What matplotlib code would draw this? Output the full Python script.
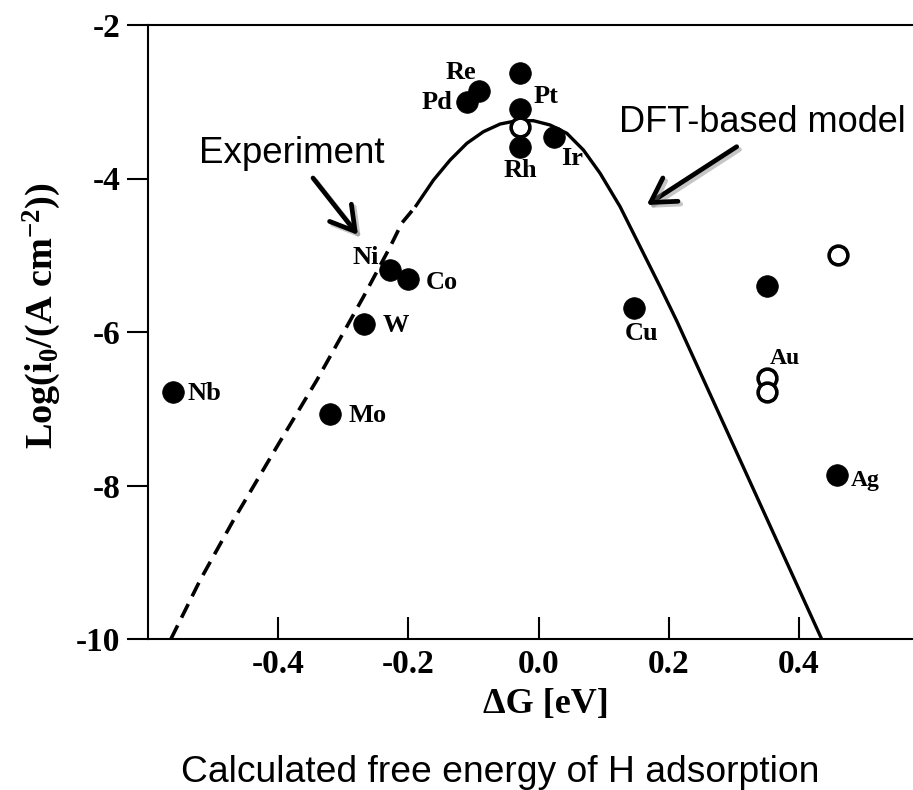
import matplotlib
matplotlib.use('Agg')
import matplotlib.pyplot as plt
import matplotlib.patheffects as pe

plt.rcParams['axes.unicode_minus'] = False
plt.rcParams['font.family'] = ['Liberation Serif', 'DejaVu Serif']
plt.rcParams['font.weight'] = 'bold'
plt.rcParams['mathtext.fontset'] = 'custom'
plt.rcParams['mathtext.rm'] = 'Liberation Serif:bold'
plt.rcParams['mathtext.bf'] = 'Liberation Serif:bold'
plt.rcParams['mathtext.it'] = 'Liberation Serif:bold'

# ---------------- data ----------------
filled_names = ['Nb', 'Mo', 'W', 'Ni', 'Co', 'Pd', 'Re', 'Pt', 'Pt', 'Rh', 'Ir', 'Cu', 'Au', 'Ag']
filled_dG = [-0.562, -0.320, -0.269, -0.229, -0.200, -0.110, -0.091, -0.028, -0.028, -0.028, 0.023, 0.146, 0.350, 0.459]
filled_logi = [-6.78, -7.07, -5.89, -5.19, -5.31, -3.00, -2.86, -2.62, -3.09, -3.59, -3.46, -5.69, -5.40, -7.86]

open_names = ['Pt', 'Au', 'Au', 'Ag']
open_dG = [-0.028, 0.350, 0.350, 0.460]
open_logi = [-3.33, -6.60, -6.78, -5.00]

model_dG = [-0.1896, -0.1615, -0.1359, -0.1102, -0.0848, -0.0591, -0.0335, -0.0080, 0.0177,
            0.0433, 0.0688, 0.0944, 0.1251, 0.1559, 0.1866, 0.2122, 0.4349]
model_logi = [-4.371, -4.020, -3.759, -3.541, -3.390, -3.290, -3.247, -3.247, -3.303,
              -3.411, -3.629, -3.932, -4.367, -4.889, -5.410, -5.857, -10.004]

exp_dG = [-0.5648, -0.5198, -0.4686, -0.4020, -0.3405, -0.2690, -0.2280, -0.2101, -0.1896]
exp_logi = [-10.0, -9.231, -8.450, -7.494, -6.625, -5.540, -4.889, -4.580, -4.371]

x_ticks = [-0.4, -0.2, 0.0, 0.2, 0.4]
x_ticklabels = ['-0.4', '-0.2', '0.0', '0.2', '0.4']
y_ticks = [-10, -8, -6, -4, -2]
y_ticklabels = ['-10', '-8', '-6', '-4', '-2']

# label: (text, which set, index in set)
point_labels = [('Nb', 'f', 0), ('Mo', 'f', 1), ('W', 'f', 2), ('Ni', 'f', 3), ('Co', 'f', 4),
                ('Pd', 'f', 5), ('Re', 'f', 6), ('Pt', 'f', 8), ('Rh', 'f', 9), ('Ir', 'f', 10),
                ('Cu', 'f', 11), ('Au', 'o', 1), ('Ag', 'f', 13)]
# label offsets in pixels (style/placement)
label_offsets = {'Nb': (32, -2), 'Mo': (37, -1), 'W': (32, -2), 'Ni': (-24, 12), 'Co': (33, -3),
                 'Pd': (-30, -1), 'Re': (-19, 19), 'Pt': (26, 12), 'Rh': (0, -23), 'Ir': (19, -21),
                 'Cu': (8, -25), 'Au': (18, 20), 'Ag': (28, -6)}
label_sizes = {'Au': 17, 'Ag': 17}

# ---------------- figure ----------------
W, H = 913, 790
fig = plt.figure(figsize=(W / 100, H / 100), dpi=100)
ax = fig.add_axes([148 / W, (H - 639) / H, (W - 148) / W, (639 - 25) / H])

ax.plot(model_dG, model_logi, color='black', lw=2.4, zorder=2, solid_capstyle='butt')
ax.plot(exp_dG, exp_logi, color='black', lw=2.6, zorder=2, dashes=(4.2, 2.4))

ax.plot(filled_dG, filled_logi, linestyle='none', marker='o', ms=15.6,
        mfc='black', mec='black', mew=0.5, zorder=3, clip_on=False)
ax.plot(open_dG, open_logi, linestyle='none', marker='o', ms=13.5,
        mfc='white', mec='black', mew=2.6, zorder=4, clip_on=False)

for name, which, idx in point_labels:
    if which == 'f':
        px, py = filled_dG[idx], filled_logi[idx]
    else:
        px, py = open_dG[idx], open_logi[idx]
    ax.annotate(name, xy=(px, py), xytext=label_offsets[name], textcoords='offset pixels',
                ha='center', va='center', fontsize=label_sizes.get(name, 19),
                fontweight='bold', zorder=5)

ax.set_xlim(-0.6, 0.575)
ax.set_ylim(-10, -2)
ax.set_xticks(x_ticks)
ax.set_xticklabels(x_ticklabels)
ax.set_yticks(y_ticks)
ax.set_yticklabels(y_ticklabels)
ax.tick_params(axis='y', direction='out', length=15, width=1.5, pad=5, labelsize=24)
ax.tick_params(axis='x', direction='in', length=16, width=1.5, pad=7, labelsize=24)
ax.spines['right'].set_visible(False)
for s in ['left', 'bottom', 'top']:
    ax.spines[s].set_linewidth(1.5)

ax.set_xlabel('\u0394G [eV]', fontsize=26, fontweight='bold')
ax.xaxis.set_label_coords((546 - 148) / 765, (639 - 688) / 614)
ax.set_ylabel(r'Log(i$_{\mathbf{0}}$/(A cm$^{\mathbf{-2}}$))', fontsize=27.5, fontweight='bold')
ax.yaxis.set_label_coords((63 - 148) / 765, (639 - 316) / 614)

sans = ['Liberation Sans', 'DejaVu Sans']
fig.text(291.7 / W, 1 - 163 / H, 'Experiment', family=sans, fontweight='normal',
         fontsize=26.5, ha='center', va='baseline')
fig.text(619 / W, 1 - 132 / H, 'DFT-based model', family=sans, fontweight='normal',
         fontsize=26, ha='left', va='baseline')
fig.text(500.5 / W, 1 - 782 / H, 'Calculated free energy of H adsorption', family=sans,
         fontweight='normal', fontsize=26.8, ha='center', va='baseline')

shadow = [pe.SimpleLineShadow(offset=(2, -2), shadow_color='gray', alpha=0.45), pe.Normal()]
arrow_style = '->,head_length=0.85,head_width=0.5'
ax.annotate('', xy=(358, H - 235), xycoords='figure pixels',
            xytext=(313, H - 178), textcoords='figure pixels',
            arrowprops=dict(arrowstyle=arrow_style, lw=3.4, color='black',
                            mutation_scale=20, shrinkA=0, shrinkB=0, path_effects=shadow))
ax.annotate('', xy=(646.7, H - 205), xycoords='figure pixels',
            xytext=(736.7, H - 146.7), textcoords='figure pixels',
            arrowprops=dict(arrowstyle=arrow_style, lw=3.4, color='black',
                            mutation_scale=20, shrinkA=0, shrinkB=0, path_effects=shadow))

fig.savefig('out.png', dpi=100)
